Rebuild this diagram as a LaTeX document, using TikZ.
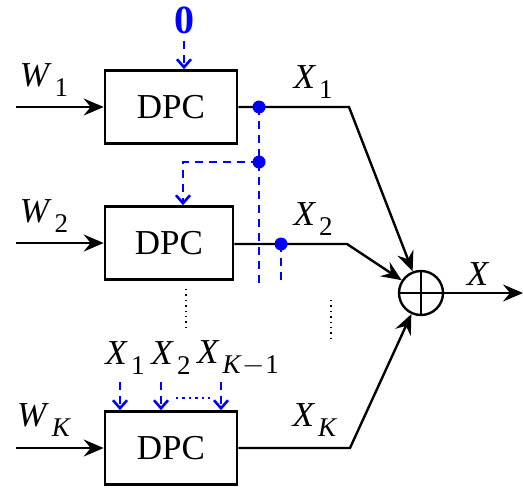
\documentclass[tikz,border=0pt]{standalone}
\usepackage{fontspec}
\setmainfont{Liberation Serif}
\usetikzlibrary{positioning,arrows.meta,calc}

% italic letter with a lowered subscript
\newcommand{\vsub}[2]{\textit{#1}\kern1.5pt\raisebox{-5pt}{\fontsize{13.5}{14}\selectfont #2}}

\begin{document}
\begin{tikzpicture}[
    x=0.5pt, y=-0.5pt,
    font=\fontsize{17.5}{20}\selectfont,
    >=Stealth,
    dpcbox/.style={draw, line width=1.3pt, minimum width=66pt, minimum height=36.5pt},
    sig/.style={line width=1.2pt, -{Stealth[length=10pt, width=8.5pt, inset=3.5pt]}},
    fb/.style={blue, line width=1.3pt, dash pattern=on 4pt off 3pt},
    fbarrow/.style={fb, -{Straight Barb[length=4pt, width=7pt]}},
    bdot/.style={circle, fill=blue, inner sep=0pt, minimum size=6.5pt}
]
\useasboundingbox (0,0) rectangle (523,487);

% DPC blocks
\node[dpcbox] (dpc1) at (171,107) {DPC};
\node[dpcbox, minimum width=64pt] (dpc2) at (169,243) {DPC};
\node[dpcbox] (dpcK) at (171,448) {DPC};

% adder
\node[circle, draw, line width=1.2pt, minimum size=22pt] (sum) at (421,293) {};
\draw[line width=1.2pt] (sum.north) -- (sum.south) (sum.west) -- (sum.east);

% inputs
\coordinate (in1) at (16,107);
\coordinate (in2) at (16,243);
\coordinate (inK) at (16,448);
\draw[sig] (in1) -- (dpc1.west);
\draw[sig] (in2) -- (dpc2.west);
\draw[sig] (inK) -- (dpcK.west);
\node (w1) at (44,80) {\vsub{W}{1}};
\node (w2) at (44,216) {\vsub{W}{2}};
\node (wK) at (44,420) {\vsub{W}{\textit{K}}};

% outputs to the adder
\coordinate (b1) at (349,107);
\coordinate (b2) at (347,244);
\coordinate (bK) at (350,448);
\draw[sig] (dpc1.east) -- (b1) -- (sum);
\draw[sig] (dpc2.east |- b2) -- (b2) -- (sum);
\draw[sig] (dpcK.east) -- (bK) -- (sum);
\node (x1) at (313,82) {\vsub{X}{1}};
\node (x2) at (313,219) {\vsub{X}{2}};
\node (xK) at (315,420) {\vsub{X}{\textit{K}}};

\coordinate (out) at (523,293);
\draw[sig] (sum) -- (out);
\node (x) at (478,274) {\textit{X}};

% known interference
\node[blue, font=\fontsize{20}{20}\selectfont\bfseries] (zero) at (184,20) {0};
\draw[fbarrow] (zero.south) -- (zero.south |- dpc1.north);

\coordinate (d1) at (259,107);
\coordinate (d1b) at (259,162);
\coordinate (t1) at (259,285);
\coordinate (c2) at (183,162);
\coordinate (d2) at (281,244);
\coordinate (t2) at (281,285);
\draw[fb] (d1) -- (t1);
\draw[fbarrow] (d1b) -- (c2) -- (c2 |- dpc2.north);
\draw[fb] (d2) -- (t2);
\node[bdot] (dot1) at (d1) {};
\node[bdot] (dot1b) at (d1b) {};
\node[bdot] (dot2) at (d2) {};

% dots between the branches
\coordinate (v1a) at (186,289);
\coordinate (v1b) at (186,328);
\coordinate (v2a) at (331,300);
\coordinate (v2b) at (331,340);
\draw[dotted, line width=0.7pt] (v1a) -- (v1b);
\draw[dotted, line width=0.7pt] (v2a) -- (v2b);

% inputs of the last block
\node (xk1) at (125,358) {\vsub{X}{1}};
\node (xk2) at (171,358) {\vsub{X}{2}};
\node (xkm) at (238,358) {\vsub{X}{\textit{K}\kern0.5pt$-$1}};
\coordinate (a1) at (120,382);
\coordinate (a2) at (161,382);
\coordinate (a3) at (221,382);
\draw[fbarrow] (a1) -- (a1 |- dpcK.north);
\draw[fbarrow] (a2) -- (a2 |- dpcK.north);
\draw[fbarrow] (a3) -- (a3 |- dpcK.north);
\coordinate (h1) at (176,398);
\coordinate (h2) at (211,398);
\draw[blue, dotted, line width=1.2pt] (h1) -- (h2);

\end{tikzpicture}
\end{document}
